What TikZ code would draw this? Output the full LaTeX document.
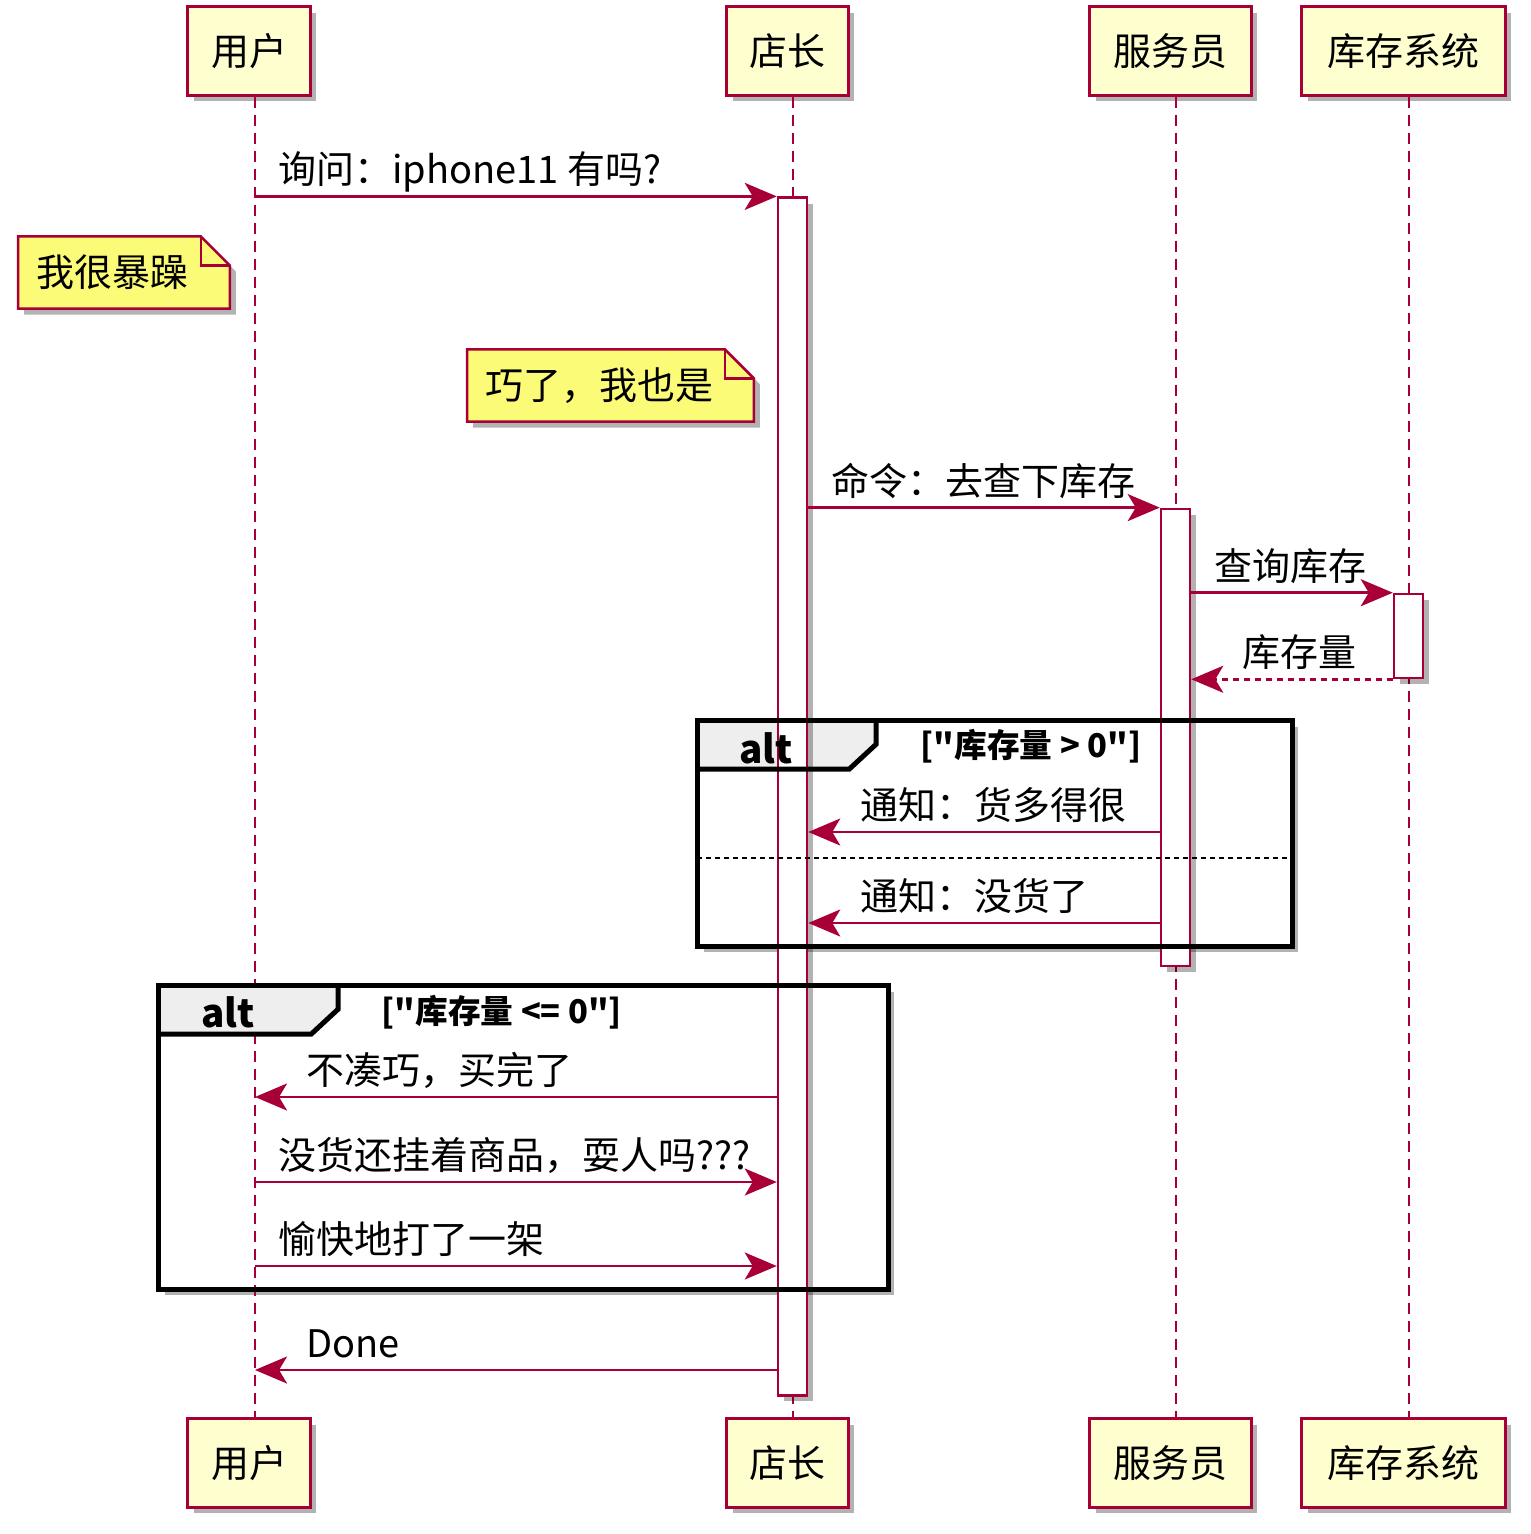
\documentclass[tikz,border=0pt]{standalone}
\usepackage{fontspec}
\setmainfont{Noto Sans CJK SC}[Ligatures=TeXOff]
\usetikzlibrary{arrows.meta, positioning, shadows, calc}
\definecolor{umlred}{RGB}{168, 0, 54}
\definecolor{partfill}{RGB}{254, 254, 206}
\definecolor{notefill}{RGB}{251, 251, 119}
\definecolor{tabgray}{RGB}{238, 238, 238}

\begin{document}
\begin{tikzpicture}[
    x=0.01cm, y=-0.01cm,
    font=\fontsize{10.8pt}{13pt}\selectfont,
    softshadow/.style={drop shadow={shadow xshift=0.06cm, shadow yshift=-0.06cm, fill=black, opacity=0.3}},
    participant/.style={
        draw=umlred, line width=0.03cm, fill=partfill,
        minimum height=0.88cm, inner sep=0pt, softshadow
    },
    lifeline/.style={draw=umlred, line width=0.025cm, dash pattern=on 0.11cm off 0.07cm},
    activation/.style={
        draw=umlred, line width=0.025cm, fill=white,
        minimum width=0.29cm, inner sep=0pt, softshadow
    },
    msg/.style={umlred, line width=0.025cm, -{Stealth[length=0.32cm, width=0.27cm, inset=0.08cm]}},
    reply/.style={msg, dash pattern=on 0.06cm off 0.05cm},
    lbl/.style={inner sep=0pt, anchor=base west, text=black, yshift=0.125cm},
    note/.style={minimum height=0.71cm, inner xsep=0.18cm, inner ysep=0pt, align=left},
    notebody/.style={draw=umlred, line width=0.025cm, fill=notefill, softshadow},
    frame/.style={fill=white, inner sep=0pt, softshadow},
    frameline/.style={draw=black, line width=0.05cm},
    tabtext/.style={font=\fontsize{11pt}{13pt}\selectfont\bfseries, inner sep=0pt},
    cond/.style={font=\fontsize{9.3pt}{11pt}\selectfont\bfseries, anchor=west, inner sep=0pt}
]
\useasboundingbox (0,0) rectangle (1530,1534);

% PARTICIPANTS (top and bottom)
\node[participant, minimum width=1.22cm] (userTop) at (249,51) {用户};
\node[participant, minimum width=1.21cm] (bossTop) at (787.5,51) {店长};
\node[participant, minimum width=1.61cm] (clerkTop) at (1170.5,51) {服务员};
\node[participant, minimum width=2.03cm] (stockTop) at (1403.5,51) {库存系统};

\node[participant, minimum width=1.22cm] (userBot) at (249,1463) {用户};
\node[participant, minimum width=1.21cm] (bossBot) at (787.5,1463) {店长};
\node[participant, minimum width=1.61cm] (clerkBot) at (1170.5,1463) {服务员};
\node[participant, minimum width=2.03cm] (stockBot) at (1403.5,1463) {库存系统};

% lifeline x positions and message rows
\coordinate (userL) at (255,0);
\coordinate (bossL) at (793,0);
\coordinate (clerkL) at (1176,0);
\coordinate (stockL) at (1409,0);
\coordinate (rowA) at (0,832);
\coordinate (sepA) at (0,858);
\coordinate (rowB) at (0,923);
\coordinate (rowC) at (0,1097);
\coordinate (rowD) at (0,1182);
\coordinate (rowE) at (0,1266);
\coordinate (rowF) at (0,1370);

% ALT FRAMES (background)
\node[frame, minimum width=5.94cm, minimum height=2.25cm] (altA) at (995,833.5) {};
\node[frame, minimum width=7.29cm, minimum height=3.03cm] (altB) at (523.5,1137.5) {};

% LIFELINES
\draw[lifeline] (userTop.south -| userL) -- (userBot.north -| userL);
\draw[lifeline] (bossTop.south -| bossL) -- (bossBot.north -| bossL);
\draw[lifeline] (clerkTop.south -| clerkL) -- (clerkBot.north -| clerkL);
\draw[lifeline] (stockTop.south -| stockL) -- (stockBot.north -| stockL);

% tab fills
\fill[tabgray] (altA.north west) -- ++(179,0) -- ++(0,24) -- ++(-27,25) -- ++(-152,0) -- cycle;
\fill[tabgray] (altB.north west) -- ++(180,0) -- ++(0,24) -- ++(-27,25) -- ++(-153,0) -- cycle;

% ACTIVATIONS
\node[activation, minimum height=11.97cm] (bossAct) at (792.5,796.5) {};
\node[activation, minimum height=4.57cm] (clerkAct) at (1175.5,737.5) {};
\node[activation, minimum height=0.84cm] (stockAct) at (1408.5,636) {};

% frame borders on top
\draw[frameline] (altA.north west) rectangle (altA.south east);
\draw[frameline] (altA.north west) ++(179,0) -- ++(0,24) -- ++(-27,25) -- ++(-152,0);
\draw[black, line width=0.018cm, dash pattern=on 0.05cm off 0.04cm] (altA.west |- sepA) -- (altA.east |- sepA);
\node[tabtext] (altAtag) at (766,748) {alt};
\node[cond] (altAcond) at (920,746) {["库存量 > 0"]};

\draw[frameline] (altB.north west) rectangle (altB.south east);
\draw[frameline] (altB.north west) ++(180,0) -- ++(0,24) -- ++(-27,25) -- ++(-153,0);
\node[tabtext] (altBtag) at (228,1012) {alt};
\node[cond] (altBcond) at (381,1012) {["库存量 <= 0"]};

% NOTES
\node[note, text width=1.74cm] (noteA) at (124,272.5) {我很暴躁};
\node[note, text width=2.49cm] (noteB) at (610.5,385.5) {巧了，我也是};
\begin{scope}
    \draw[notebody] (noteA.south west) -- (noteA.north west) -- ([xshift=-0.29cm]noteA.north east)
        -- ([yshift=-0.29cm]noteA.north east) -- (noteA.south east) -- cycle;
    \draw[umlred, line width=0.025cm] ([xshift=-0.29cm]noteA.north east) |- ([yshift=-0.29cm]noteA.north east);
    \draw[notebody] (noteB.south west) -- (noteB.north west) -- ([xshift=-0.29cm]noteB.north east)
        -- ([yshift=-0.29cm]noteB.north east) -- (noteB.south east) -- cycle;
    \draw[umlred, line width=0.025cm] ([xshift=-0.29cm]noteB.north east) |- ([yshift=-0.29cm]noteB.north east);
\end{scope}
\node[note, text width=1.74cm] at (noteA) {我很暴躁};
\node[note, text width=2.49cm] at (noteB) {巧了，我也是};

% MESSAGES
\draw[msg] (userL |- bossAct.north) -- (bossAct.north west)
    node[lbl, pos=0, xshift=0.22cm] {询问：iphone11 有吗?};
\draw[msg] (bossAct.east |- clerkAct.north) -- (clerkAct.north west)
    node[lbl, pos=0, xshift=0.22cm] {命令：去查下库存};
\draw[msg] (clerkAct.east |- stockAct.north) -- (stockAct.north west)
    node[lbl, pos=0, xshift=0.22cm] {查询库存};
\draw[reply] (stockAct.south west) -- (clerkAct.east |- stockAct.south)
    node[lbl, pos=1, xshift=0.5cm] {库存量};

\draw[msg] (clerkAct.west |- rowA) -- (bossAct.east |- rowA)
    node[lbl, pos=1, xshift=0.51cm] {通知：货多得很};
\draw[msg] (clerkAct.west |- rowB) -- (bossAct.east |- rowB)
    node[lbl, pos=1, xshift=0.51cm] {通知：没货了};

\draw[msg] (bossAct.west |- rowC) -- (userL |- rowC)
    node[lbl, pos=1, xshift=0.5cm] {不凑巧，买完了};
\draw[msg] (userL |- rowD) -- (bossAct.west |- rowD)
    node[lbl, pos=0, xshift=0.22cm] {没货还挂着商品，耍人吗???};
\draw[msg] (userL |- rowE) -- (bossAct.west |- rowE)
    node[lbl, pos=0, xshift=0.22cm] {愉快地打了一架};
\draw[msg] (bossAct.west |- rowF) -- (userL |- rowF)
    node[lbl, pos=1, xshift=0.5cm] {Done};

\end{tikzpicture}
\end{document}
